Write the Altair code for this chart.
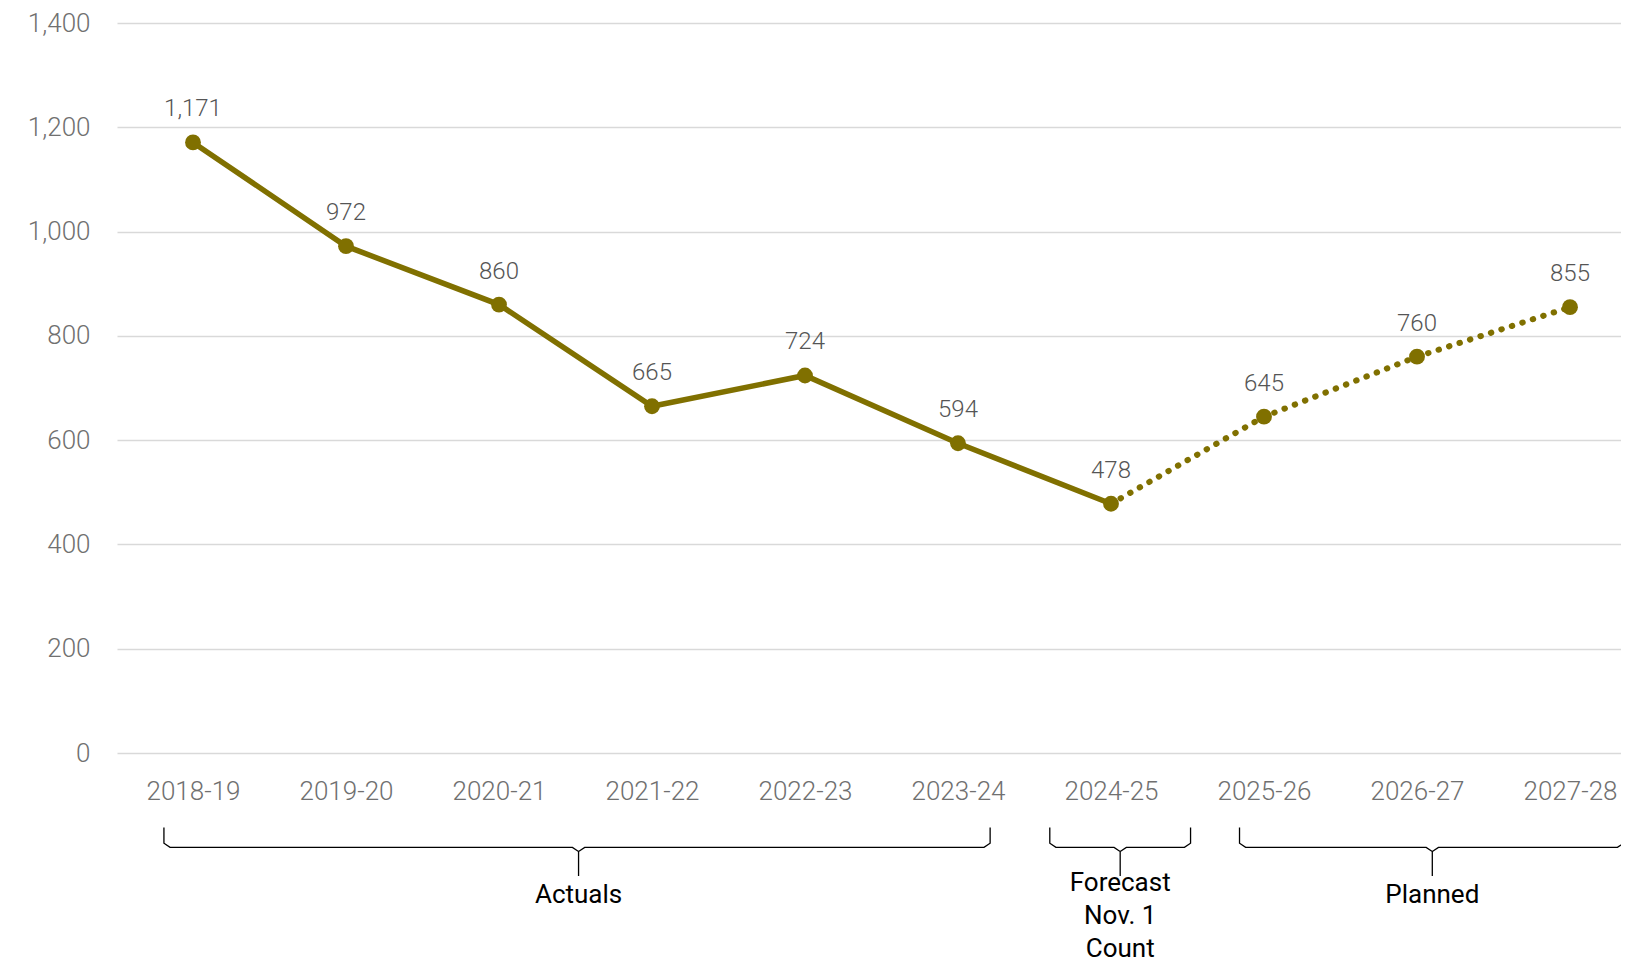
import altair as alt
import pandas as pd

years = ["2018-19", "2019-20", "2020-21", "2021-22", "2022-23", "2023-24",
         "2024-25", "2025-26", "2026-27", "2027-28"]
values = [1171, 972, 860, 665, 724, 594, 478, 645, 760, 855]
actual_last = 6  # index where the solid line ends (2024-25)

# braces (in category-index units): left, centre, right
brace_names = ["Actuals", "Forecast", "Planned"]
brace_left = [-0.19, 5.60, 6.84]
brace_center = [2.52, 6.06, 8.10]
brace_right = [5.21, 6.52, 9.35]
brace_text = ["Actuals", "Forecast\nNov. 1\nCount", "Planned"]
brace_text_y = [-272, -250, -272]

OLIVE = "#807000"
FONT = "Roboto"

df = pd.DataFrame({"idx": list(range(len(years))), "year": years, "value": values})
solid = df[df.idx <= actual_last]
dotted = df[df.idx >= actual_last]

# brace polylines
yT, yH, yP = -143, -181, -236
rows = []
for n, L, C, R in zip(brace_names, brace_left, brace_center, brace_right):
    c = 0.04
    pts = [(L, yT), (L, yH + 8), (L + c, yH), (C - c, yH), (C, yH - 8), (C, yP),
           (C, yH - 8), (C + c, yH), (R - c, yH), (R, yH + 8), (R, yT)]
    for k, (x, y) in enumerate(pts):
        rows.append({"brace": n, "o": k, "x": x, "y": y})
braces = pd.DataFrame(rows)
btext = pd.DataFrame({"x": brace_center, "y": brace_text_y, "t": brace_text})

labels_expr = "[" + ",".join(f"'{y}'" for y in years) + "][datum.value]"

x_scale = alt.Scale(domain=[-76 / 153, (1504 - 76) / 153], nice=False, zero=False)
y_scale = alt.Scale(domain=[0, 1400], nice=False)

base = alt.Chart(df)

x_enc = alt.X("idx:Q", scale=x_scale,
              axis=alt.Axis(values=list(range(len(years))), labelExpr=labels_expr,
                            grid=False, domain=False, ticks=False, title=None,
                            labelFont=FONT, labelFontSize=26, labelFontWeight=300,
                            labelColor="#707070",
                            labelPadding=25, labelFlush=False))
y_enc = alt.Y("value:Q", scale=y_scale,
              axis=alt.Axis(values=list(range(0, 1401, 200)), format=",.0f",
                            grid=True, gridColor="#d9d9d9", gridWidth=1.5,
                            domain=False, ticks=False, title=None,
                            labelFont=FONT, labelFontSize=26, labelFontWeight=300,
                            labelColor="#707070",
                            labelPadding=27))

line_solid = alt.Chart(solid).mark_line(color=OLIVE, strokeWidth=5.5).encode(x=x_enc, y=y_enc)
line_dot = alt.Chart(dotted).mark_line(color=OLIVE, strokeWidth=6, strokeDash=[0.5, 10.5],
                                       strokeCap="round").encode(x="idx:Q", y="value:Q")
pts = base.mark_circle(color=OLIVE, size=250, opacity=1).encode(x="idx:Q", y="value:Q")
lbl = base.mark_text(font=FONT, fontSize=24, fontWeight=300, color="#555555", dy=-33).encode(
    x="idx:Q", y="value:Q", text=alt.Text("value:Q", format=",.0f"))

brace_lines = alt.Chart(braces).mark_line(color="#000000", strokeWidth=1.3, clip=False).encode(
    x="x:Q", y="y:Q", detail="brace:N", order="o:Q")
brace_lbl = alt.Chart(btext).mark_text(font=FONT, fontSize=26, color="#000000",
                                       lineBreak="\n", lineHeight=33, baseline="middle",
                                       clip=False).encode(x="x:Q", y="y:Q", text="t:N")

chart = alt.layer(line_solid, line_dot, pts, lbl, brace_lines, brace_lbl).properties(
    width=1504, height=730,
    autosize=alt.AutoSizeParams(type="none"),
    padding={"left": 109, "top": 15, "right": 0, "bottom": 212},
).configure_view(stroke=None)

chart.save("out.html", embed_options={"renderer": "svg", "actions": False})
